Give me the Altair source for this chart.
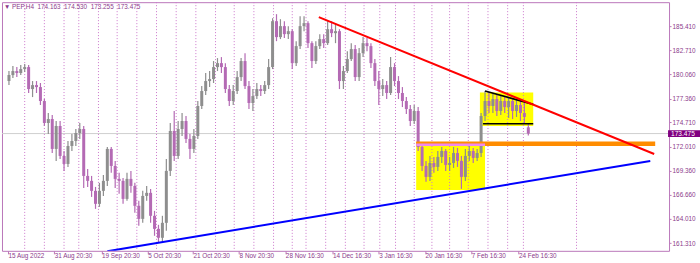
import altair as alt
import pandas as pd

# ---------------- data (PEP, H4) ----------------
opens = [179.31,179.97,180.42,180.20,180.64,180.86,178.42,178.86,178.64,177.09,
         174.65,175.09,171.77,174.32,170.99,170.10,172.10,172.65,173.54,173.98,
         168.77,168.22,167.11,165.67,167.11,168.22,171.77,169.88,168.44,168.22,
         166.22,168.44,167.66,165.45,164.00,166.55,166.89,164.34,162.89,161.90,
         163.56,169.33,173.76,170.99,173.98,174.87,172.88,171.77,173.21,176.54,
         178.20,179.31,179.53,180.86,181.30,180.86,178.42,177.09,178.20,179.75,
         181.53,178.75,176.87,177.64,178.42,178.20,178.86,180.86,185.96,184.19,
         185.41,184.52,184.85,181.30,183.19,185.41,185.74,183.52,181.53,183.19,
         183.97,183.52,185.07,184.63,184.85,179.31,180.42,181.75,182.86,179.75,
         182.41,183.52,183.19,181.30,179.31,178.42,178.86,177.98,180.86,179.31,
         177.98,177.09,176.20,174.87,175.98,171.99,169.88,168.66,170.21,169.77,
         170.88,171.54,169.99,170.21,171.32,170.44,168.66,170.99,171.54,170.77,
         171.32,175.43,177.09,176.54,177.31,175.98,177.09,176.42,177.09,175.98,
         176.65,175.76,174.163]
highs = [180.42,180.97,180.86,181.08,181.19,181.08,179.31,179.31,179.09,177.31,
         175.76,175.54,174.87,174.87,171.54,172.65,173.43,173.98,174.65,174.32,
         169.55,168.77,167.55,168.00,168.88,171.99,171.99,170.44,169.11,168.55,
         169.11,169.33,168.00,166.00,167.11,167.66,167.33,164.89,163.34,164.34,
         170.66,174.65,175.98,174.87,175.76,175.43,173.43,173.98,177.09,178.75,
         180.20,180.42,181.53,181.86,181.97,181.30,178.86,178.86,180.42,181.86,
         182.41,179.31,178.42,179.09,178.86,179.31,181.75,186.29,186.74,186.18,
         185.96,185.41,185.07,183.74,186.52,186.52,185.96,183.74,183.74,184.52,
         184.52,185.96,185.96,185.74,185.07,180.97,182.63,183.52,183.30,182.97,
         184.19,184.08,183.52,181.75,180.42,179.53,179.31,181.97,181.30,179.86,
         178.64,177.53,176.65,176.65,176.42,172.43,170.44,170.99,170.88,171.54,
         171.99,171.77,170.88,171.99,171.88,170.99,171.77,172.43,171.88,171.77,
         175.76,178.20,178.09,177.87,177.76,177.64,177.64,177.53,177.42,177.31,
         177.09,176.87,174.530]
lows = [178.86,179.64,179.75,179.97,180.31,177.98,177.53,177.98,176.65,174.32,
        173.43,171.32,170.44,170.66,169.33,169.77,171.54,172.10,172.88,167.44,
        167.55,166.44,165.11,165.33,166.55,167.66,169.11,167.44,166.78,165.67,
        166.00,166.89,164.67,163.23,163.56,166.00,163.56,162.12,161.34,161.45,
        162.67,168.77,170.44,170.66,173.21,172.43,170.66,171.32,172.88,176.20,
        177.76,178.64,179.09,180.42,180.20,177.98,176.54,176.65,177.87,179.31,
        178.42,176.20,175.98,177.31,177.64,177.87,178.42,180.64,183.74,183.97,
        184.08,183.97,180.64,180.97,182.86,184.85,182.97,180.75,181.19,182.86,
        182.97,183.30,184.19,183.52,178.42,178.42,180.20,181.53,179.31,179.31,
        181.97,182.63,180.75,178.75,176.65,177.64,177.31,177.76,178.75,177.31,
        176.42,175.65,174.32,174.54,171.54,169.33,168.11,168.22,169.11,169.33,
        170.21,169.33,169.33,169.66,169.77,167.33,168.22,170.44,170.21,170.44,
        170.88,174.87,175.76,175.76,175.43,175.54,175.76,175.20,175.09,175.32,
        174.87,174.65,173.255]
closes = [179.97,180.42,180.20,180.64,180.86,178.42,178.86,178.64,177.09,174.65,
          175.09,171.77,174.32,170.99,170.10,172.10,172.65,173.54,173.98,168.77,
          168.22,167.11,165.67,167.11,168.22,171.77,169.88,168.44,168.22,166.22,
          168.44,167.66,165.45,164.00,166.55,166.89,164.34,162.89,161.90,163.56,
          169.33,173.76,170.99,173.98,174.87,172.88,171.77,173.21,176.54,178.20,
          179.31,179.53,180.86,181.30,180.86,178.42,177.09,178.20,179.75,181.53,
          178.75,176.87,177.64,178.42,178.20,178.86,180.86,185.96,184.19,185.41,
          184.52,184.85,181.30,183.19,185.41,185.74,183.52,181.53,183.19,183.97,
          183.52,185.07,184.63,184.85,179.31,180.42,181.75,182.86,179.75,182.41,
          183.52,183.19,181.30,179.31,178.42,178.86,177.98,180.86,179.31,177.98,
          177.09,176.20,174.87,175.98,171.99,169.88,168.66,170.21,169.77,170.88,
          171.54,169.99,170.21,171.32,170.44,168.66,170.99,171.54,170.77,171.32,
          175.43,177.09,176.54,177.31,175.98,177.09,176.42,177.09,175.98,176.65,
          175.76,175.32,173.475]

# time-axis labels (positions in bar units) and price ticks
x_label_pos = [-0.25, 11.5, 23.5, 35.25, 46.75, 58.5, 70.25, 82.25, 94, 105.75, 117.5, 129.5]
x_label_txt = ["15 Aug 2022", "31 Aug 20:30", "19 Sep 20:30", "5 Oct 20:30", "21 Oct 20:30",
               "8 Nov 20:30", "28 Nov 16:30", "14 Dec 16:30", "3 Jan 16:30", "20 Jan 16:30",
               "7 Feb 16:30", "24 Feb 16:30"]
grid_pos = [4, 9, 14, 17.75, 22.75, 27.5, 32.5, 37.5, 42.5, 47.5, 52.5, 57.25, 62.25, 67.25,
            72, 75.5, 80.5, 85.5, 90.25, 94.25, 98.25, 103, 107.5, 112, 116.75, 121.75,
            126.75, 130.75, 144.25]
y_ticks = [161.31, 164.01, 166.66, 169.36, 172.01, 174.71, 177.36, 180.06, 182.71, 185.41]
last_price = 173.475

# drawn objects (bar units / prices)
trend_lines = pd.DataFrame({
    "name": ["red", "blue", "ftop", "fbot"],
    "x1": [78.75, 25.0, 121.0, 120.5],
    "x2": [164.0, 163.0, 133.25, 133.25],
    "p1": [186.41, 160.40, 178.20, 174.57],
    "p2": [171.21, 170.44, 176.72, 174.57],
})
boxes = pd.DataFrame({
    "x1": [103.5, 119.7],
    "x2": [121.0, 133.25],
    "p1": [172.54, 178.05],
    "p2": [167.22, 174.32],
})
support_level = 172.34
support_from, support_to, support_pink_to = 103.5, 164.25, 121.0

# ---------------- chart ----------------
PURPLE = "#8B3A8B"
BORDER = "#BB77BB"
FONT = "Liberation Sans"

xs = alt.Scale(domain=[-0.5, 166.5], nice=False, zero=False)
ys = alt.Scale(domain=[160.45, 188.07], nice=False, zero=False)

expr = " : ".join(f"datum.value == {p} ? '{t}'" for p, t in zip(x_label_pos, x_label_txt)) + " : ''"
xaxis = alt.Axis(values=x_label_pos, labelExpr=expr, labelAlign="left", labelFontSize=6.4,
                 labelColor=PURPLE, labelFont=FONT, tickSize=3, tickColor=BORDER,
                 labelPadding=-1, domain=False, grid=False, title=None,
                 labelOverlap=False, labelFlush=False, labelBound=False)
yaxis = alt.Axis(orient="right", values=y_ticks, format=".3f", labelFontSize=6.4,
                 labelColor=PURPLE, labelFont=FONT, tickSize=2, tickColor=BORDER,
                 labelPadding=1, domain=False, grid=False, title=None,
                 labelOverlap=False, labelFlush=False, labelBound=False)

n = len(closes)
candles = pd.DataFrame({"bar": list(range(n)), "open": opens, "high": highs,
                        "low": lows, "close": closes})
candles["dir"] = ["up" if c >= o else "down" for o, c in zip(opens, closes)]

X = lambda f: alt.X(f, scale=xs, axis=xaxis)
Y = lambda f: alt.Y(f, scale=ys, axis=yaxis)

rects = alt.Chart(boxes).mark_rect(color="#FFFF00").encode(
    x=X("x1:Q"), x2="x2:Q", y=Y("p1:Q"), y2="p2:Q")

grid = alt.Chart(pd.DataFrame({"g": grid_pos})).mark_rule(
    color="#CC77CC", strokeDash=[1, 2], strokeWidth=1).encode(x=X("g:Q"))

price_line = alt.Chart(pd.DataFrame({"p": [last_price]})).mark_rule(
    color="#CFCFCF", strokeWidth=1).encode(y=Y("p:Q"))

wicks = alt.Chart(candles).mark_rule(strokeWidth=1.2).encode(
    x=X("bar:Q"), y=Y("low:Q"), y2="high:Q",
    color=alt.Color("dir:N", scale=alt.Scale(domain=["up", "down"], range=["#8E8E8E", "#B46AB4"]),
                    legend=None))
bodies = alt.Chart(candles).mark_bar(size=3, opacity=1).encode(
    x=X("bar:Q"), y=Y("open:Q"), y2="close:Q",
    color=alt.Color("dir:N", scale=alt.Scale(domain=["up", "down"], range=["#5E5E5E", "#86108A"]),
                    legend=None))

sup = pd.DataFrame({"a": [support_from], "b": [support_to], "p": [support_level]})
orange = alt.Chart(sup).mark_rule(color="#FF8C00", strokeWidth=4.5).encode(
    x=X("a:Q"), x2="b:Q", y=Y("p:Q"))
pinkd = pd.DataFrame({"a": [support_from], "b": [support_pink_to], "p": [support_level - 0.1]})
pink = alt.Chart(pinkd).mark_rule(color="#EE88EE", strokeWidth=2.5).encode(
    x=X("a:Q"), x2="b:Q", y=Y("p:Q"))

def tline(name, color, width):
    return alt.Chart(trend_lines[trend_lines.name == name]).mark_rule(
        color=color, strokeWidth=width, clip=True).encode(
        x=X("x1:Q"), x2="x2:Q", y=Y("p1:Q"), y2="p2:Q")

black_top = tline("ftop", "#000000", 1.6)
black_bot = tline("fbot", "#000000", 1.6)
red = tline("red", "#FF0000", 2)
blue = tline("blue", "#0000FF", 2)

nb = "\u00a0"
title_txt = f"▼ PEP,H4{nb}{nb}174.163{nb}{nb}174.530{nb}{nb}173.255{nb}{nb}173.475"
title = alt.Chart(pd.DataFrame({"t": [title_txt]})).mark_text(
    align="left", baseline="middle", fontSize=6.4, color=PURPLE, font=FONT).encode(
    x=alt.value(2), y=alt.value(5), text="t:N")

tag = pd.DataFrame({"p": [last_price], "hi": [last_price + 0.38], "lo": [last_price - 0.38],
                    "t": [f"{last_price:.3f}"]})
tag_box = alt.Chart(tag).mark_rect(color="#800080").encode(
    x=alt.value(667), x2=alt.value(699), y=Y("hi:Q"), y2="lo:Q")
tag_txt = alt.Chart(tag).mark_text(align="left", baseline="middle", fontSize=6.6,
                                   color="white", font=FONT).encode(
    x=alt.value(670), y=Y("p:Q"), text="t:N")

chart = alt.layer(rects, grid, price_line, wicks, bodies, orange, pink, black_top,
                  black_bot, red, blue, title, tag_box, tag_txt).properties(
    width=668, height=249,
    padding={"left": 1, "top": 1, "right": 0, "bottom": 0},
    background="white",
).configure_view(stroke=BORDER, strokeWidth=1)

chart.save("out.html", embed_options={"renderer": "svg", "actions": False})
